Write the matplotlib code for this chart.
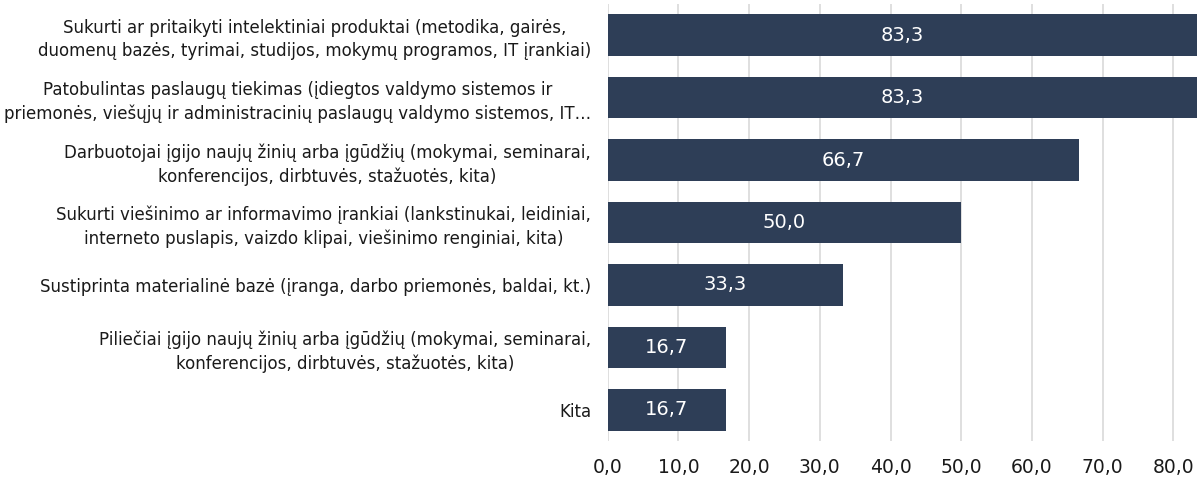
import matplotlib
matplotlib.use('Agg')
import matplotlib.pyplot as plt

# duomenys
labels = [
    'Sukurti ar pritaikyti intelektiniai produktai (metodika, gairės,\nduomenų bazės, tyrimai, studijos, mokymų programos, IT įrankiai)',
    'Patobulintas paslaugų tiekimas (įdiegtos valdymo sistemos ir\npriemonės, viešųjų ir administracinių paslaugų valdymo sistemos, IT…',
    'Darbuotojai įgijo naujų žinių arba įgūdžių (mokymai, seminarai,\nkonferencijos, dirbtuvės, stažuotės, kita)',
    'Sukurti viešinimo ar informavimo įrankiai (lankstinukai, leidiniai,\ninterneto puslapis, vaizdo klipai, viešinimo renginiai, kita)',
    'Sustiprinta materialinė bazė (įranga, darbo priemonės, baldai, kt.)',
    'Piliečiai įgijo naujų žinių arba įgūdžių (mokymai, seminarai,\nkonferencijos, dirbtuvės, stažuotės, kita)',
    'Kita',
]
values = [83.3, 83.3, 66.7, 50.0, 33.3, 16.7, 16.7]
xticks = [0, 10, 20, 30, 40, 50, 60, 70, 80]

plt.rcParams['font.family'] = ['DejaVu Sans']

fig = plt.figure(figsize=(12.01, 4.79), dpi=100)
ax = fig.add_axes([0.506, 0.079, 0.4905, 0.913])

y = list(range(len(values)))
bars = ax.barh(y, values, height=0.66, color='#2E3E57', zorder=3)

for b, v in zip(bars, values):
    ax.text(b.get_width() / 2, b.get_y() + b.get_height() / 2,
            f'{v:.1f}'.replace('.', ','), ha='center', va='center',
            color='white', fontsize=14, zorder=4)

ax.set_yticks(y)
ax.set_yticklabels(labels, fontsize=12.0, ha='right', multialignment='center',
                   linespacing=1.35, color='#1A1A1A')
ax.tick_params(axis='y', length=0, pad=12)
ax.set_ylim(len(values) - 0.5, -0.5)

ax.set_xlim(0, 83.3)
ax.set_xticks(xticks)
ax.set_xticklabels([f'{t:.1f}'.replace('.', ',') for t in xticks], fontsize=13.5,
                   color='#1A1A1A')
ax.tick_params(axis='x', length=0, pad=12)

ax.grid(axis='x', color='#D9D9D9', linewidth=1.2, zorder=0)
for s in ax.spines.values():
    s.set_visible(False)

plt.savefig('out.png', dpi=100)
